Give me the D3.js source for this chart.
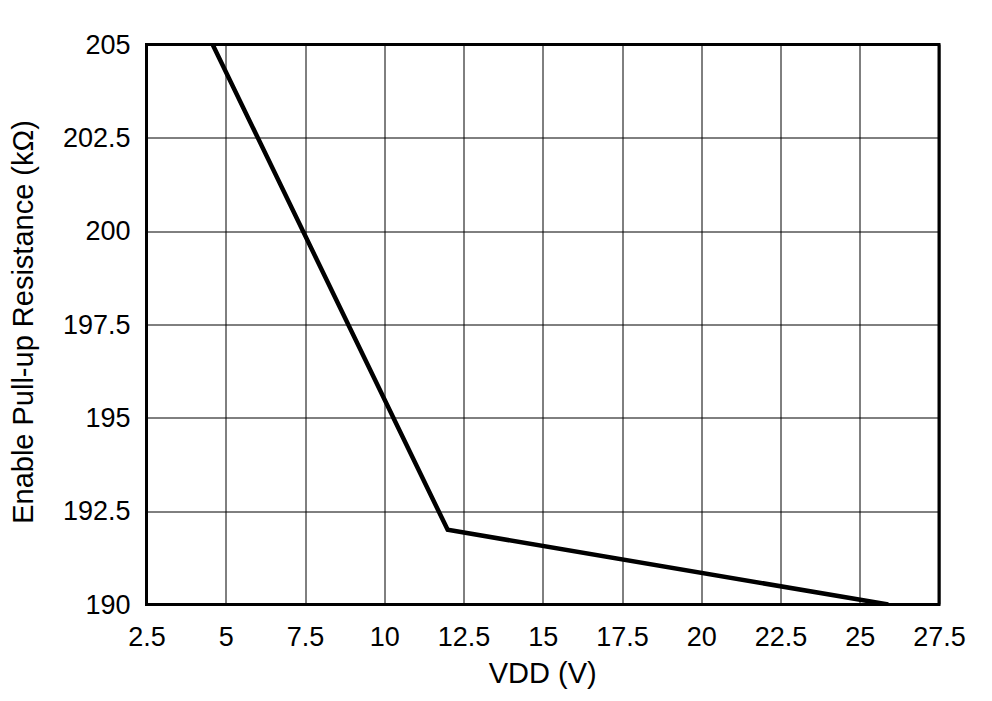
<!DOCTYPE html>
<html>
<head>
<meta charset="utf-8">
<script src="https://cdn.jsdelivr.net/npm/d3@7"></script>
<style>
  html, body { margin: 0; padding: 0; background: #fff; }
  svg { display: block; }
  text { font-family: "Liberation Sans", Arial, sans-serif; fill: #000; }
</style>
</head>
<body>
<svg id="chart" width="992" height="701"></svg>
<script>
const vdd = [4.5, 12, 25.9];
const resistance = [205.15, 192, 190];
const xTicks = [2.5, 5, 7.5, 10, 12.5, 15, 17.5, 20, 22.5, 25, 27.5];
const yTicks = [190, 192.5, 195, 197.5, 200, 202.5, 205];
const xLabel = "VDD (V)";
const yLabel = "Enable Pull-up Resistance (kΩ)";

const svg = d3.select("#chart");
const m = { left: 146.5, top: 44.5, right: 53, bottom: 96.5 };
const W = 992 - m.left - m.right;
const H = 701 - m.top - m.bottom;

const x = d3.scaleLinear().domain([2.5, 27.5]).range([0, W]);
const y = d3.scaleLinear().domain([190, 205]).range([H, 0]);

const g = svg.append("g").attr("transform", `translate(${m.left},${m.top})`);

g.append("clipPath").attr("id", "clip")
  .append("rect").attr("width", W).attr("height", H);

// grid
g.append("g").selectAll("line").data(xTicks).join("line")
  .attr("x1", d => Math.round(x(d)) + 0.5).attr("x2", d => Math.round(x(d)) + 0.5)
  .attr("y1", 0).attr("y2", H)
  .attr("stroke", "#000").attr("stroke-width", 1);
g.append("g").selectAll("line").data(yTicks).join("line")
  .attr("y1", d => Math.round(y(d)) + 0.5).attr("y2", d => Math.round(y(d)) + 0.5)
  .attr("x1", 0).attr("x2", W)
  .attr("stroke", "#000").attr("stroke-width", 1);

// axes (labels only)
const xAxis = d3.axisBottom(x).tickValues(xTicks).tickSize(0).tickPadding(22).tickFormat(d3.format(""));
const yAxis = d3.axisLeft(y).tickValues(yTicks).tickSize(0).tickPadding(16).tickFormat(d3.format(""));

const gx = g.append("g").attr("transform", `translate(0,${H})`).call(xAxis);
gx.select(".domain").remove();
gx.selectAll("text").style("font-size", "27px").attr("font-family", null);

const gy = g.append("g").call(yAxis);
gy.select(".domain").remove();
gy.selectAll("text").style("font-size", "27px").attr("font-family", null);

// data line
const pts = vdd.map((v, i) => [v, resistance[i]]);
g.append("path").datum(pts)
  .attr("clip-path", "url(#clip)")
  .attr("fill", "none").attr("stroke", "#000").attr("stroke-width", 4.5)
  .attr("stroke-linejoin", "miter")
  .attr("d", d3.line().x(d => x(d[0])).y(d => y(d[1])));

// frame
g.append("rect").attr("width", W).attr("height", H)
  .attr("fill", "none").attr("stroke", "#000").attr("stroke-width", 3);

// axis titles
svg.append("text")
  .attr("x", m.left + W / 2).attr("y", 683)
  .attr("text-anchor", "middle").style("font-size", "29px")
  .text(xLabel);

svg.append("text")
  .attr("transform", `translate(33,322) rotate(-90)`)
  .attr("text-anchor", "middle").style("font-size", "29px")
  .text(yLabel);
</script>
</body>
</html>
